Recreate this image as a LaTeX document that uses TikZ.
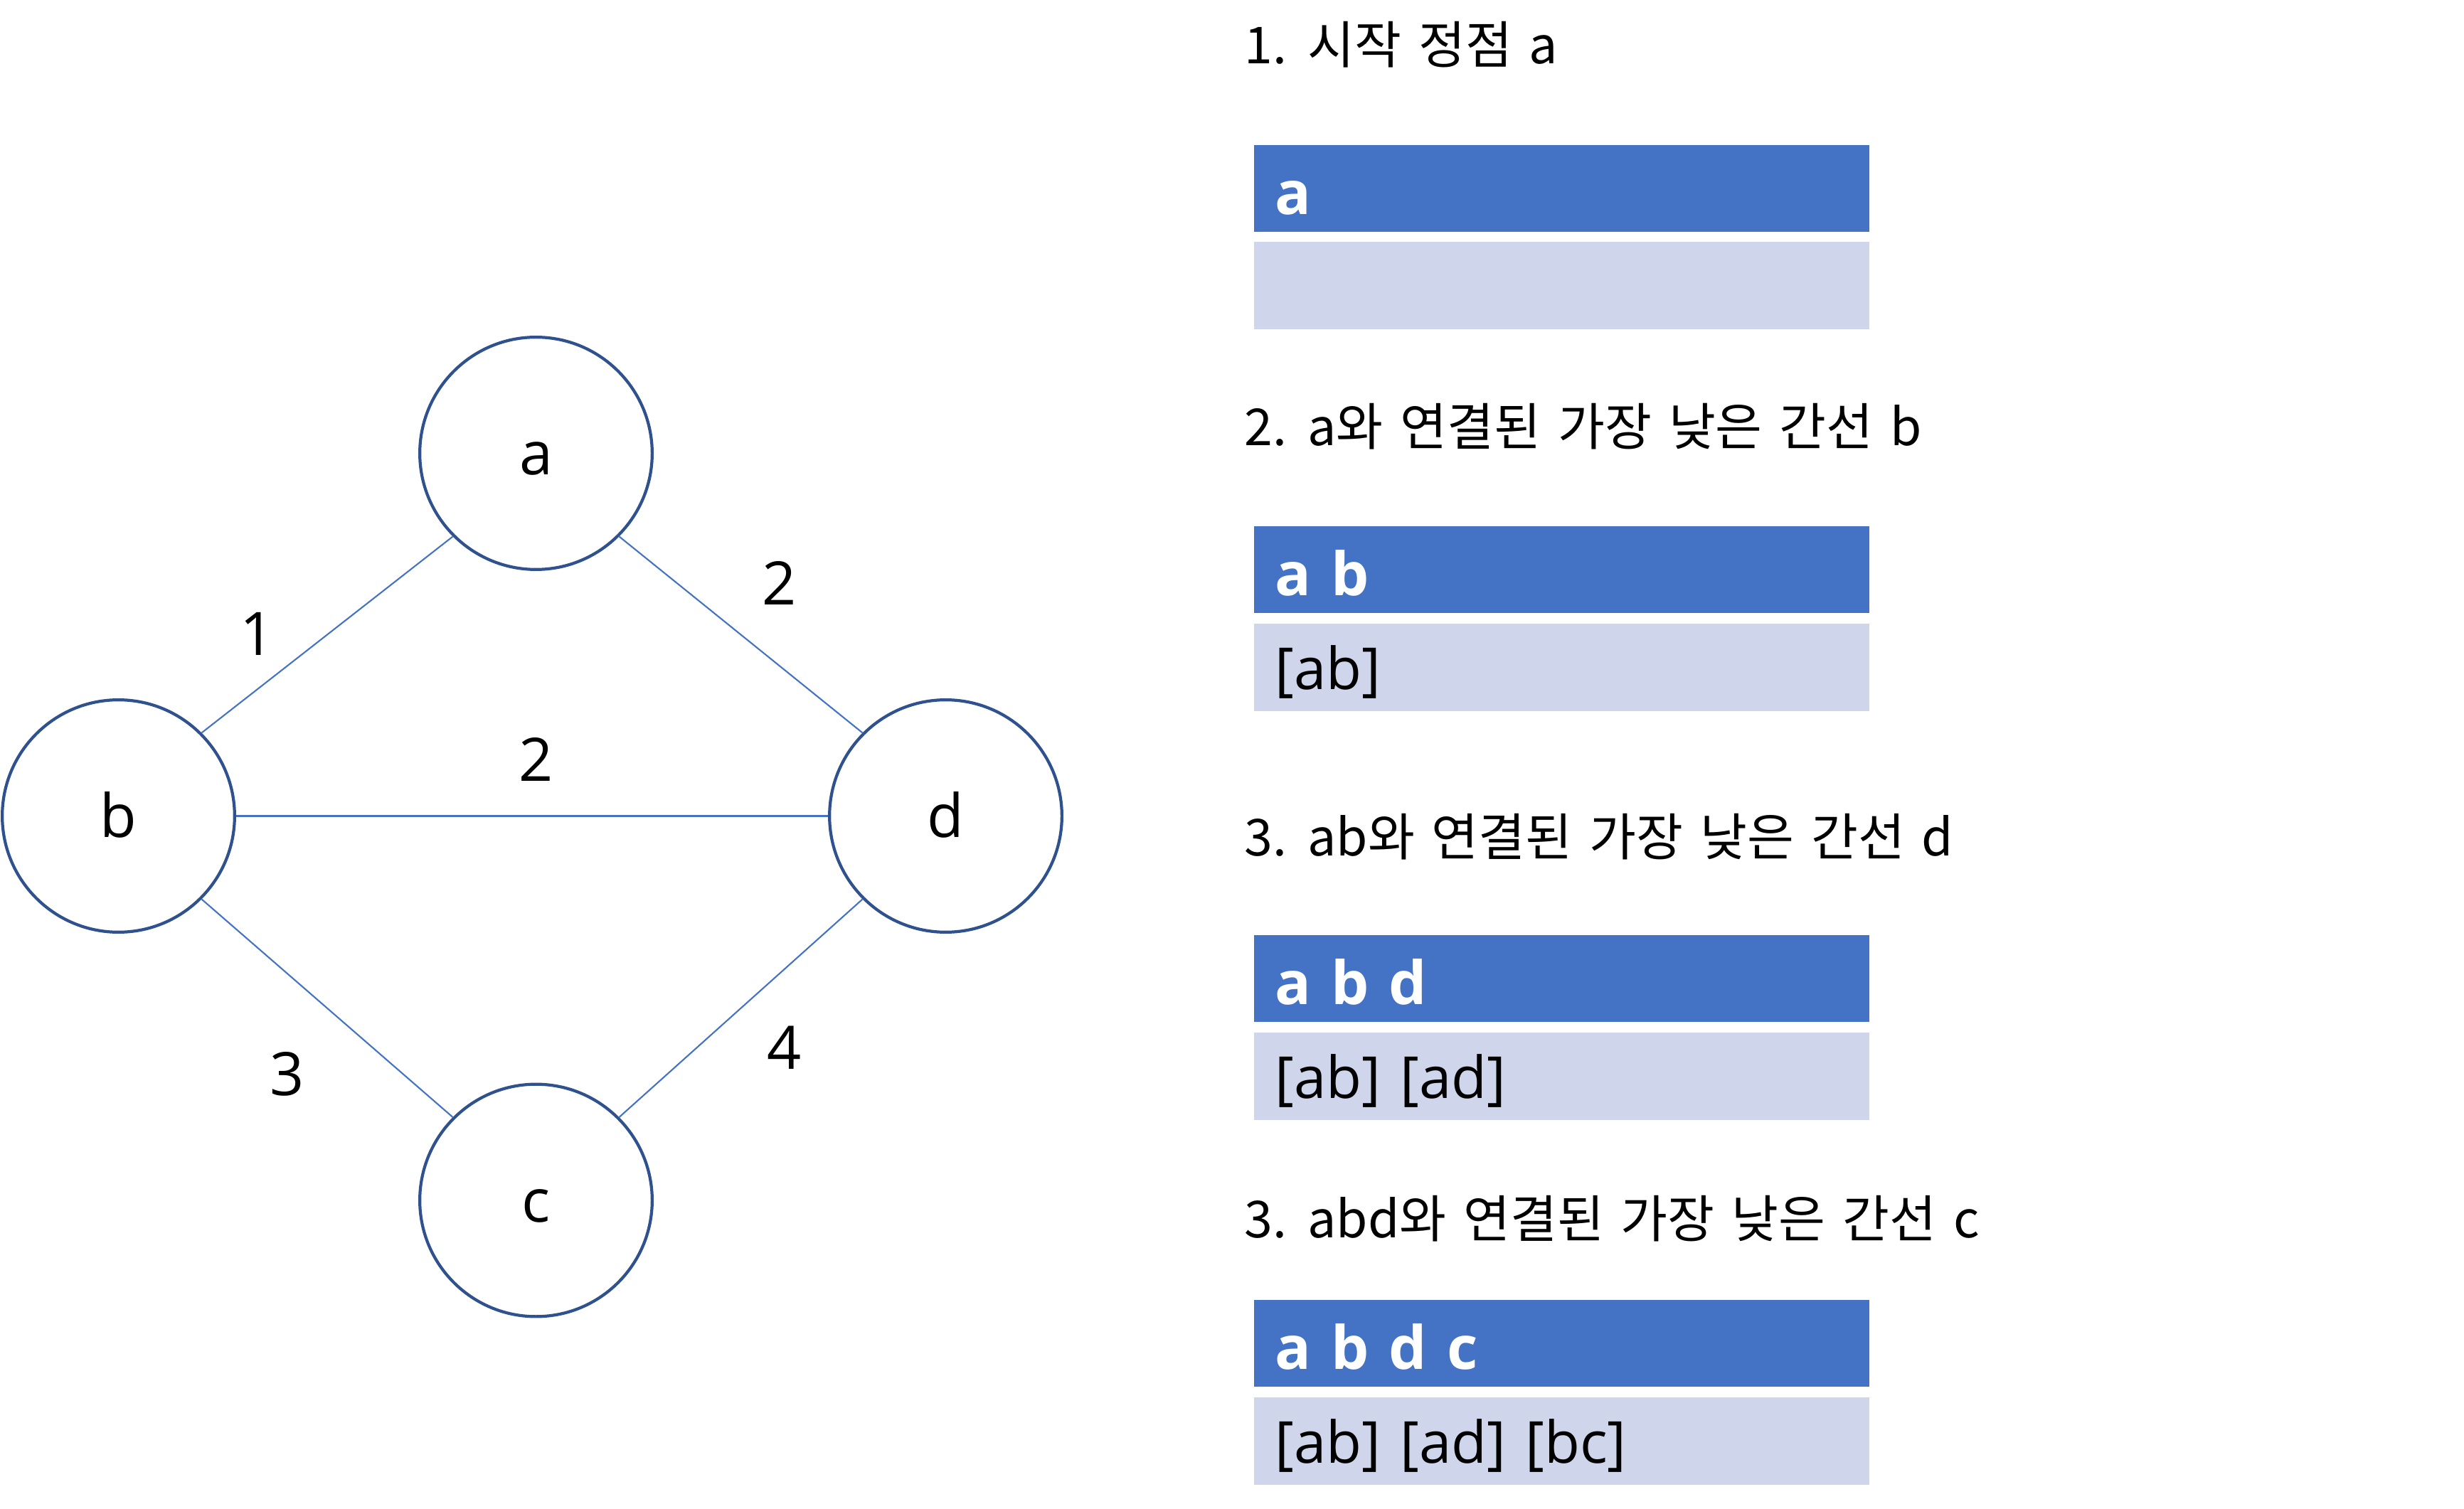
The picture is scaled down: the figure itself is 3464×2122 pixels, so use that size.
\documentclass[tikz,border=0pt]{standalone}
\usepackage{fontspec}
\setmainfont{Open Sans}
\newfontfamily\korfont{Noto Sans CJK KR}
\usetikzlibrary{positioning}

\definecolor{ringblue}{HTML}{2F528F}
\definecolor{lineblue}{HTML}{4472C4}
\definecolor{barblue}{HTML}{4472C4}
\definecolor{barpale}{HTML}{CFD5EA}

\tikzset{
	vertex/.style={circle, draw=ringblue, line width=0.6pt, fill=white, minimum size=1.635cm, inner sep=0pt,
		font=\fontsize{12}{14}\selectfont, text height=0.305cm, text depth=0cm},
	edge/.style={draw=lineblue, line width=0.3pt},
	weight/.style={anchor=base, inner sep=0pt, font=\fontsize{12}{14}\selectfont},
	header/.style={anchor=base west, inner sep=0pt, font=\korfont\fontsize{10.2}{12}\selectfont,
		execute at begin node={\spaceskip=0.12cm\relax}},
	topbar/.style={anchor=north west, fill=barblue, text=white, minimum width=4.325cm, minimum height=0.61cm,
		text width=4.035cm, align=left, inner xsep=0.145cm, inner ysep=0pt,
		font=\bfseries\fontsize{12}{14}\selectfont, text height=0.36cm, text depth=0cm},
	bottombar/.style={anchor=north west, fill=barpale, text=black, minimum width=4.325cm, minimum height=0.615cm,
		text width=4.035cm, align=left, inner xsep=0.145cm, inner ysep=0pt,
		font=\fontsize{11.6}{14}\selectfont, text height=0.305cm, text depth=0cm}
}

\begin{document}
\begin{tikzpicture}[x=0.005cm, y=-0.005cm]
	\useasboundingbox (0,0) rectangle (3464,2122);

	% graph
	\node[vertex] (a) at (753.5,637.5) {a};
	\node[vertex] (b) at (166.5,1147.5) {b};
	\node[vertex] (d) at (1329.5,1147.5) {d};
	\node[vertex] (c) at (753.5,1688) {c};

	\draw[edge] (a.south west) -- (b.north east);
	\draw[edge] (a.south east) -- (d.north west);
	\draw[edge] (b.east) -- (d.west);
	\draw[edge] (b.south east) -- (c.north west);
	\draw[edge] (c.north east) -- (d.south west);

	\node[weight] (wab) at (362,922) {1};
	\node[weight] (wad) at (1096,851) {2};
	\node[weight] (wbd) at (754,1098) {2};
	\node[weight] (wbc) at (404,1540) {3};
	\node[weight] (wcd) at (1103,1503) {4};

	% steps
	\node[header] (h1) at (1748,90) {1. 시작 정점 a};
	\node[topbar] (t1) at (1762,203) {a};
	\node[bottombar] (s1) at (1762,339) {};

	\node[header] (h2) at (1748,627) {2. a와 연결된 가장 낮은 간선 b};
	\node[topbar] (t2) at (1762,739) {a b};
	\node[bottombar] (s2) at (1762,876) {[ab]};

	\node[header] (h3) at (1748,1203) {3. ab와 연결된 가장 낮은 간선 d};
	\node[topbar] (t3) at (1762,1314) {a b d};
	\node[bottombar] (s3) at (1762,1451) {[ab] [ad]};

	\node[header] (h4) at (1748,1740) {3. abd와 연결된 가장 낮은 간선 c};
	\node[topbar] (t4) at (1762,1827) {a b d c};
	\node[bottombar] (s4) at (1762,1964) {[ab] [ad] [bc]};
\end{tikzpicture}
\end{document}
